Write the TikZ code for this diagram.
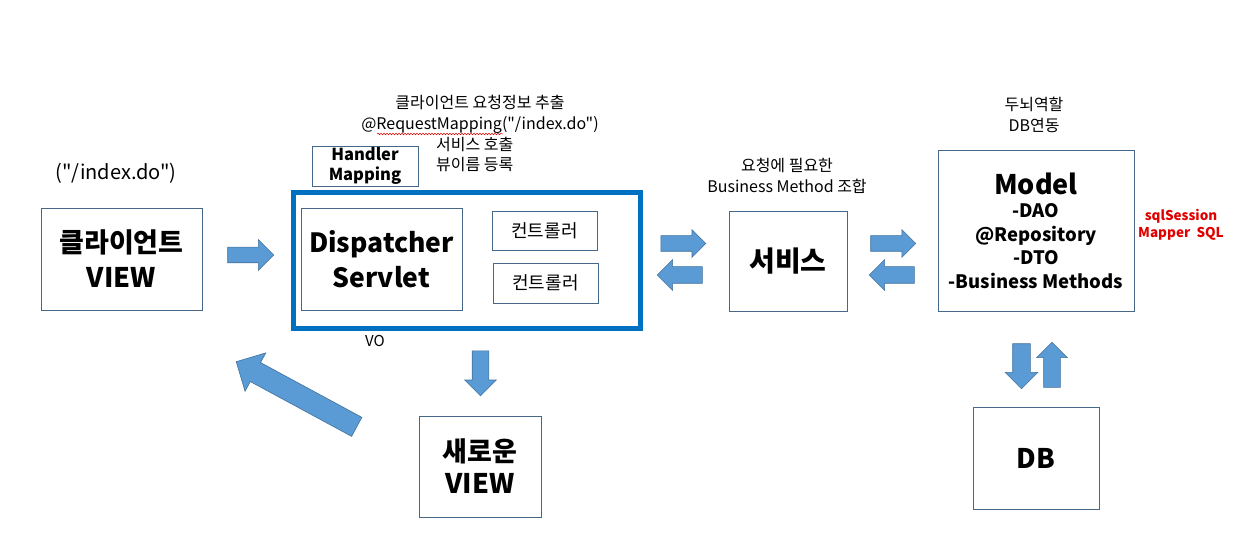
\documentclass[tikz,border=0pt]{standalone}
\usepackage{fontspec}
\setmainfont{Noto Sans CJK KR}[Ligatures=TeXOff]
\usepackage{xcolor}
\usetikzlibrary{shapes.arrows, positioning, calc, decorations.pathmorphing}

\definecolor{boxline}{RGB}{70,104,136}
\definecolor{frameblue}{RGB}{0,112,192}
\definecolor{arrowfill}{RGB}{91,155,213}
\definecolor{arrowline}{RGB}{65,113,156}
\definecolor{noteRed}{RGB}{225,0,0}

\tikzset{
  box/.style={draw=boxline, line width=0.8pt, inner sep=0pt, align=center},
  bigtxt/.style={font=\fontsize{27}{35}\selectfont\bfseries},
  note/.style={font=\fontsize{16}{21}\selectfont, align=center, inner sep=0pt},
  blk/.style={single arrow, draw=arrowline, fill=arrowfill, line width=0.6pt,
    inner xsep=0pt, single arrow head indent=0pt, anchor=tail},
}

\begin{document}
\begin{tikzpicture}[x=1pt, y=-1pt]
\fill[white] (0,0) rectangle (1247,553);
\useasboundingbox (0,0) rectangle (1247,553);

% client side
\node[note, font=\fontsize{20}{24}\selectfont] (url) at (116,173) {("/index.do")};
\node[box, bigtxt, minimum width=161, minimum height=102] (client) at (121.5,259) {클라이언트\\VIEW};

% dispatcher block
\node[draw=frameblue, line width=5pt, minimum width=347, minimum height=135, inner sep=0pt] (frame) at (466.5,260.5) {};
\node[box, font=\fontsize{26.5}{35}\selectfont\bfseries, minimum width=161, minimum height=102] (servlet) at (381.5,259) {Dispatcher\\Servlet};
\node[box, font=\fontsize{18}{20}\selectfont, minimum width=105, minimum height=39] (ctrlA) at (544.5,230.5) {컨트롤러};
\node[box, font=\fontsize{18}{20}\selectfont, minimum width=105, minimum height=40] (ctrlB) at (545.5,283) {컨트롤러};
\node[box, font=\fontsize{16.5}{20}\selectfont\bfseries, minimum width=106, minimum height=40] (handler) at (365,166) {Handler\\Mapping};
\node[note] (reqNote) at (480,114) {클라이언트 요청정보 추출\\@RequestMapping("/index.do")};
\draw[noteRed, line width=0.5pt, decorate, decoration={snake, amplitude=0.8pt, segment length=3pt}] (377,134) -- (503,134);
\node[note, align=left, anchor=west, font=\fontsize{16}{19.5}\selectfont] (callNote) at (436,154.5) {서비스 호출\\뷰이름 등록};
\node[note, font=\fontsize{15}{16}\selectfont] (vo) at (375,341) {VO};

% new view
\node[box, font=\fontsize{27}{32}\selectfont\bfseries, minimum width=122, minimum height=101] (newView) at (480,466.5) {새로운\\VIEW};

% service
\node[box, font=\fontsize{28}{32}\selectfont\bfseries, minimum width=118, minimum height=100] (service) at (788,261) {서비스};
\node[note] (svcNote) at (787,176) {요청에 필요한\\Business Method 조합};

% model
\node[box, font=\fontsize{18.5}{23.5}\selectfont\bfseries, minimum width=196, minimum height=161] (model) at (1036,230.5)
  {{\fontsize{27}{30}\selectfont Model}\\[0pt] -DAO\\@Repository\\-DTO\\-Business Methods};
\node[note] (modelNote) at (1034,115) {두뇌역할\\DB연동};
\node[note, font=\fontsize{13.5}{17}\selectfont\bfseries, text=noteRed] (sqlNote) at (1181,224.5) {sqlSession\\Mapper\ \ SQL};

% db
\node[box, bigtxt, minimum width=126, minimum height=102] (db) at (1036,458) {DB};

% block arrows
\node[blk, minimum height=46, minimum width=30, inner ysep=7.5, single arrow head extend=7.5] (toDisp) at ($(client.east)+(25,-4)$) {};
\node[blk, minimum height=45, minimum width=27, inner ysep=7.5, single arrow head extend=6] (toSvc) at ($(frame.east)+(18,-17)$) {};
\node[blk, minimum height=45, minimum width=30, inner ysep=8, single arrow head extend=7, rotate=180] (fromSvc) at ($(service.west)+(-26,14)$) {};
\node[blk, minimum height=45, minimum width=27, inner ysep=7.5, single arrow head extend=6] (toModel) at ($(service.east)+(23,-17.5)$) {};
\node[blk, minimum height=45, minimum width=30, inner ysep=8, single arrow head extend=7, rotate=180] (fromModel) at ($(model.west)+(-23,44.5)$) {};
\node[blk, minimum height=45, minimum width=31, inner ysep=8, single arrow head extend=7.5, rotate=-90] (toView) at ($(frame.south)+(14,20)$) {};
\node[blk, minimum height=45, minimum width=32, inner ysep=8.5, single arrow head extend=7.5, rotate=-90] (toDb) at ($(model.south)+(-14.5,32)$) {};
\node[blk, minimum height=45, minimum width=30, inner ysep=8, single arrow head extend=7, rotate=90] (fromDb) at ($(db.north)+(16,-19)$) {};
\node[blk, minimum height=137, minimum width=43, inner ysep=10.5, single arrow head extend=11, rotate=151.6] (backArr) at (357,427) {};
\end{tikzpicture}
\end{document}
